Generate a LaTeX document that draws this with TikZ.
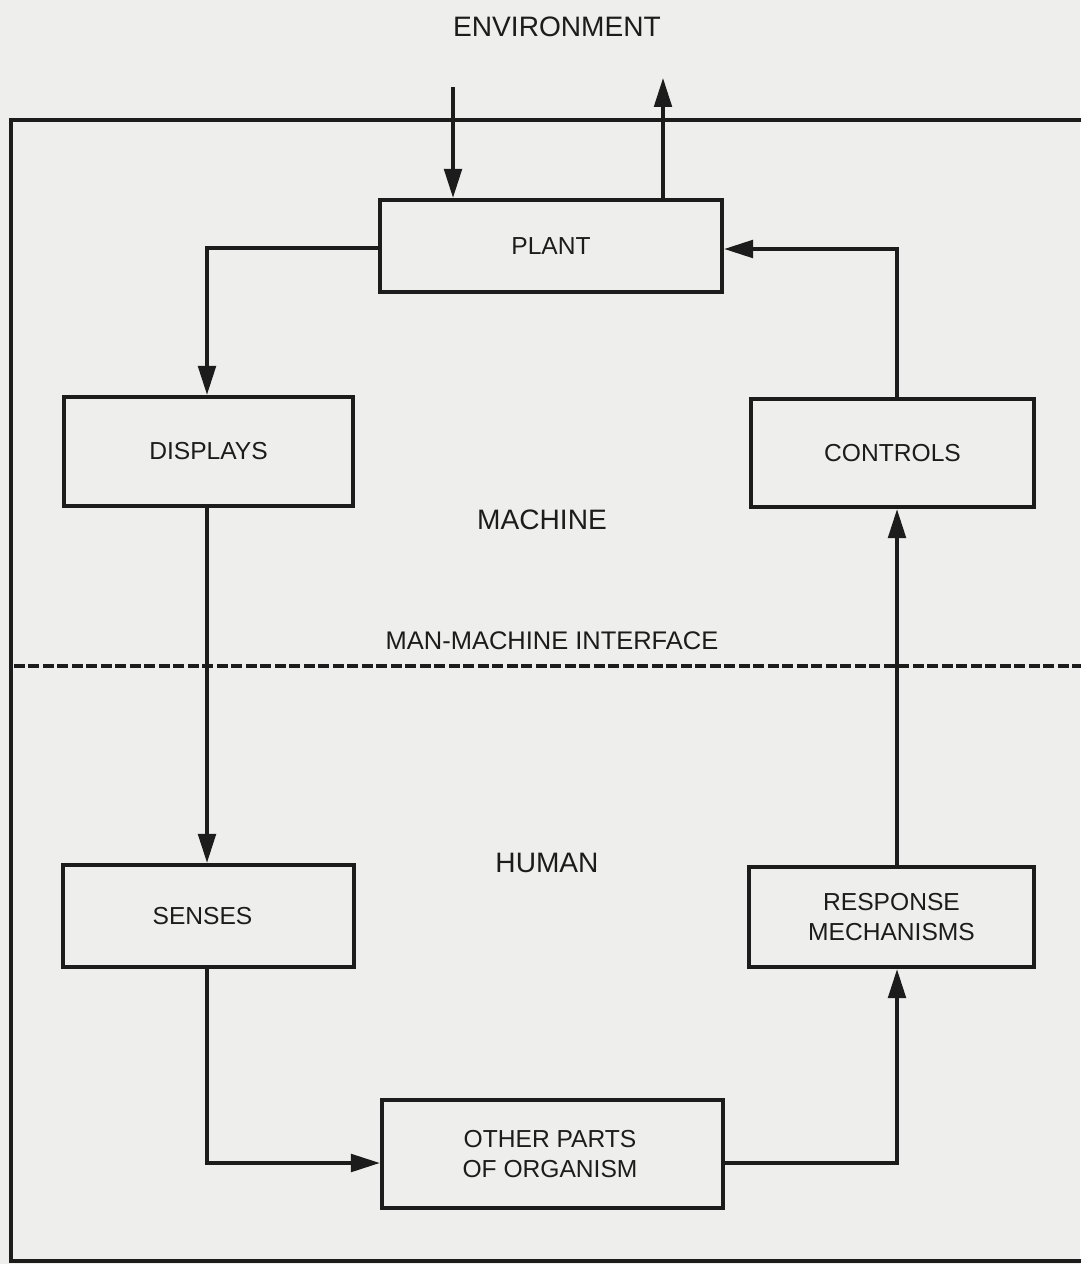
\documentclass[tikz,border=0pt]{standalone}
\usepackage{fontspec}
\setmainfont{Liberation Sans}
\usetikzlibrary{arrows.meta}
\definecolor{bg}{HTML}{EEEEEC}
\definecolor{ink}{HTML}{1C1C1C}
\begin{document}
\begin{tikzpicture}[x=0.02cm,y=-0.02cm,
  every node/.style={text=ink},
  blk/.style={draw=ink,line width=2.4pt,inner sep=0pt,align=center,
    font=\fontsize{14}{17.5}\selectfont},
  region/.style={font=\fontsize{16}{19}\selectfont,inner sep=0pt},
  conn/.style={draw=ink,line width=2pt,-{Triangle[length=16.5pt,width=10pt]}},
  frame/.style={draw=ink,line width=1.8pt},
  iface/.style={draw=ink,line width=1.9pt,dash pattern=on 0.22cm off 0.07cm}]
\fill[bg] (0,0) rectangle (1080,1264);
\useasboundingbox (0,0) rectangle (1080,1264);
% frame
\coordinate (ftr) at (1082,120);
\coordinate (ftl) at (11,120);
\coordinate (fbl) at (11,1261);
\coordinate (fbr) at (1082,1261);
\draw[frame] (ftr) -- (ftl) -- (fbl) -- (fbr);
% interface line
\coordinate (dl) at (14,666);
\coordinate (dr) at (1082,666);
\draw[iface] (dl) -- (dr);
% boxes
\node[blk,minimum width=6.84cm,minimum height=1.84cm] (plant) at (551,246) {PLANT};
\node[blk,minimum width=5.78cm,minimum height=2.18cm] (displays) at (208.5,451.5) {DISPLAYS};
\node[blk,minimum width=5.66cm,minimum height=2.16cm] (controls) at (892.5,453) {CONTROLS};
\node[blk,minimum width=5.82cm,minimum height=2.04cm] (senses) at (208.5,916) {\hspace*{-0.24cm}SENSES};
\node[blk,minimum width=5.70cm,minimum height=2.00cm] (response) at (891.5,917) {RESPONSE\\MECHANISMS};
\node[blk,minimum width=6.82cm,minimum height=2.16cm] (other) at (552.5,1154) {\hspace*{-0.1cm}OTHER PARTS\\\hspace*{-0.1cm}OF ORGANISM};
% labels
\node[region] (env) at (557,27) {ENVIRONMENT};
\node[region] (machine) at (542,520) {MACHINE};
\node[region,font=\fontsize{14.5}{17}\selectfont] (mmi) at (552,641) {MAN-MACHINE INTERFACE};
\node[region] (human) at (547,863) {HUMAN};
% columns
\coordinate (lc) at (207,0);
\coordinate (rc) at (897,0);
\coordinate (envin) at (453,87);
\coordinate (envout) at (663,78);
% connectors
\draw[conn] (envin) -- (plant.north -| envin);
\draw[conn] (plant.north -| envout) -- (envout);
\draw[conn] ([yshift=-0.04cm]plant.west) -| (displays.north -| lc);
\draw[conn] (displays.south -| lc) -- (senses.north -| lc);
\draw[conn] (senses.south -| lc) |- ([yshift=-0.18cm]other.west);
\draw[conn] ([yshift=-0.18cm]other.east) -| (response.south -| rc);
\draw[conn] (response.north -| rc) -- (controls.south -| rc);
\draw[conn] (controls.north -| rc) |- ([yshift=-0.06cm]plant.east);
\end{tikzpicture}
\end{document}
